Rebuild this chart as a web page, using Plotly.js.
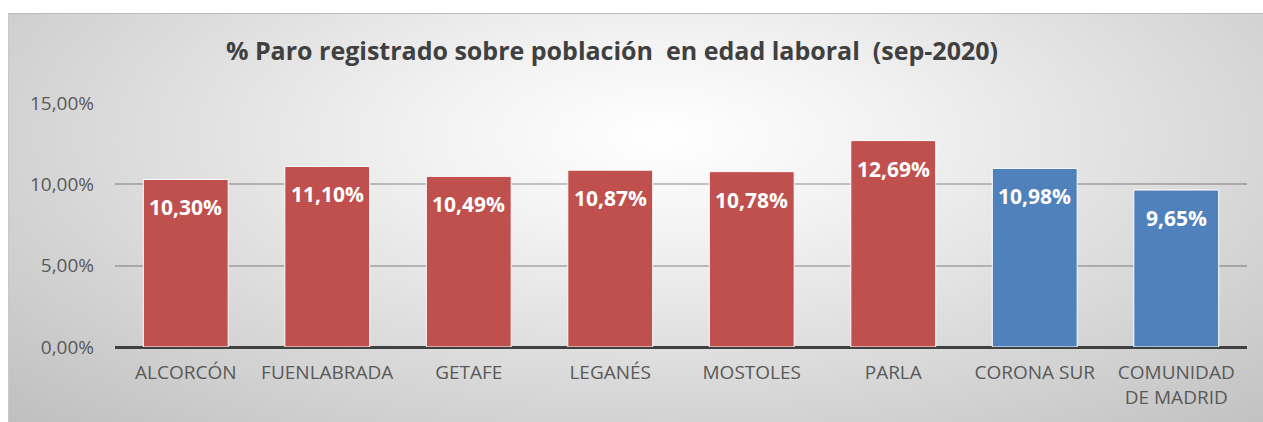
<!DOCTYPE html>
<html>
<head>
<meta charset="utf-8">
<script src="https://cdn.plot.ly/plotly-3.0.1.min.js"></script>
<style>
  html, body { margin:0; padding:0; background:#ffffff; }
  #wrap { position:relative; width:1263px; height:422px; overflow:hidden; }
  #bg { position:absolute; left:8px; top:13px; width:1255px; height:409px;
        border-top:1px solid #bdbdbd; border-left:1px solid #c8c8c8; box-sizing:border-box;
        background: radial-gradient(ellipse farthest-corner at 52% 30%, #ffffff 0%, #f2f2f2 25%, #bfbfbf 100%); }
  #chart { position:absolute; left:0; top:0; width:1263px; height:422px; }
</style>
</head>
<body>
<div id="wrap">
  <div id="bg"></div>
  <div id="chart"></div>
</div>
<script>
const categories = ["ALCORCÓN", "FUENLABRADA", "GETAFE", "LEGANÉS", "MOSTOLES", "PARLA", "CORONA SUR", "COMUNIDAD<br>DE MADRID"];
const values = [10.30, 11.10, 10.49, 10.87, 10.78, 12.69, 10.98, 9.65];
const barColors = ["#C0504D", "#C0504D", "#C0504D", "#C0504D", "#C0504D", "#C0504D", "#4F81BD", "#4F81BD"];
const yTickVals = [0, 5, 10, 15];
const yTickText = ["0,00%", "5,00%", "10,00%", "15,00%"];
const titleText = "% Paro registrado sobre población  en edad laboral  (sep-2020)";

const fmt = v => v.toFixed(2).replace(".", ",") + "%";
const FONT = "Open Sans, sans-serif";

const trace = {
  type: "bar",
  x: categories,
  y: values,
  marker: { color: barColors, line: { color: "#ffffff", width: 1 } },
  hoverinfo: "none"
};

const annotations = categories.map((c, i) => ({
  x: c, y: values[i], xref: "x", yref: "y",
  text: fmt(values[i]),
  showarrow: false,
  yanchor: "top", xanchor: "center",
  yshift: -12,
  font: { family: FONT, size: 21, color: "#ffffff", weight: 700 }
}));

const layout = {
  width: 1263, height: 422,
  margin: { l: 115, r: 16, t: 103, b: 75, pad: 0 },
  paper_bgcolor: "rgba(0,0,0,0)",
  plot_bgcolor: "rgba(0,0,0,0)",
  showlegend: false,
  bargap: 0.4,
  annotations: annotations,
  title: {
    text: titleText,
    font: { family: FONT, size: 25, color: "#404040", weight: 700 },
    x: 0.439, xref: "paper", xanchor: "center",
    y: 55, yref: "container", yanchor: "middle"
  },
  xaxis: {
    type: "category",
    showgrid: false,
    showline: false,
    zeroline: false,
    ticks: "",
    tickfont: { family: FONT, size: 19, color: "#595959" },
    ticklabelstandoff: 12,
    fixedrange: true
  },
  yaxis: {
    range: [0, 15],
    tickvals: yTickVals,
    ticktext: yTickText,
    showgrid: true,
    gridcolor: "rgba(0,0,0,0.22)",
    gridwidth: 2,
    zeroline: true,
    zerolinecolor: "#404040",
    zerolinewidth: 3,
    showline: false,
    ticks: "",
    tickfont: { family: FONT, size: 19, color: "#595959" },
    ticklabelstandoff: 20,
    fixedrange: true
  }
};

Plotly.newPlot("chart", [trace], layout, { displayModeBar: false, staticPlot: true });
</script>
</body>
</html>
